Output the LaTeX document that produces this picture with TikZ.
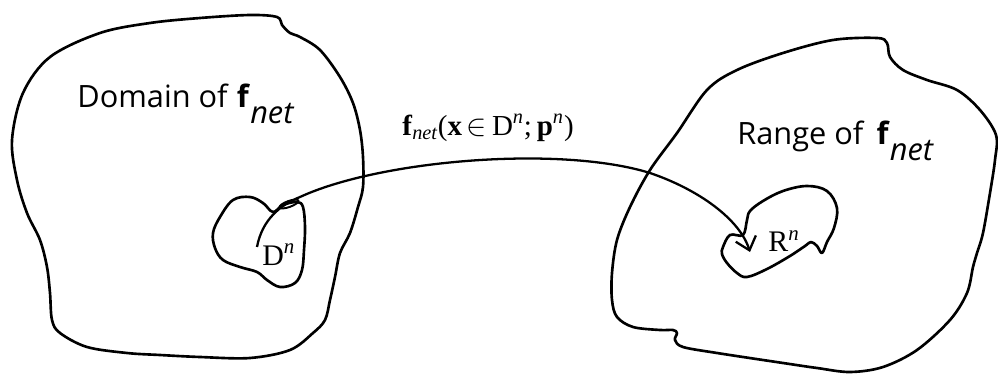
\documentclass[tikz,border=0pt]{standalone}
\usepackage{fontspec}
\setmainfont{Liberation Serif}
\newfontfamily\labelsf{Open Sans}
\usetikzlibrary{arrows.meta}
\tikzset{blob/.style={line width=1.5pt, line join=round},
         lbl/.style={anchor=base west, inner sep=0pt}}
\begin{document}
\begin{tikzpicture}[x=0.02cm,y=-0.02cm]
\useasboundingbox (0,0) rectangle (998,375);
% domain of the network function
\draw[blob] plot[smooth cycle,tension=0.55] coordinates {(12,140) (23,93) (50,57) (100,33) (150,23) (200,18) (250,15) (277,17) (282,25) (290,33) (300,37) (320,50) (340,77) (353,103) (360,130) (363,157) (363,187) (358,207) (350,233) (340,253) (335,277) (330,300) (325,320) (313,333) (290,350) (250,358) (200,357) (160,355) (127,353) (87,347) (60,333) (52,320) (50,293) (47,267) (40,240) (27,213) (17,180)};
% range
\draw[blob] plot[smooth cycle,tension=0.55] coordinates {(707,90) (737,70) (783,53) (833,40) (877,38) (887,43) (890,57) (903,70) (927,80) (957,90) (980,110) (996,135) (995,160) (990,193) (983,233) (977,253) (973,267) (967,293) (950,320) (917,350) (883,367) (850,372) (817,368) (783,363) (717,353) (683,347) (675,340) (677,333) (673,330) (660,330) (633,327) (617,317) (612,300) (612,273) (617,240) (630,207) (650,170) (677,133)};
% small sets
\draw[blob] plot[smooth cycle,tension=0.6] coordinates {(213,233) (220,217) (233,200) (250,197) (263,203) (273,212) (283,205) (297,202) (303,207) (305,227) (304,250) (302,270) (295,283) (280,287) (267,280) (257,272) (240,267) (223,260) (215,248)};
\draw[blob] plot[smooth cycle,tension=0.6] coordinates {(723,247) (730,235) (743,235) (747,220) (750,211) (763,201) (783,191) (807,186) (827,191) (837,208) (834,228) (827,242) (822,253) (817,246) (811,242) (805,246) (790,256) (767,269) (747,277) (737,273) (727,263) (722,254)};
\node[lbl] (domlabel) at (77,108) {\labelsf\fontsize{17.5}{20}\selectfont Domain of \textbf{f}\raisebox{-0.5em}{\itshape net}};
\node[lbl] (rnglabel) at (737,145) {\labelsf\fontsize{17.5}{20}\selectfont Range of\, \textbf{f}\raisebox{-0.5em}{\itshape net}};
\node[lbl] (maplabel) at (402,135) {\fontsize{16.5}{19}\selectfont\textbf{f}\textsubscript{\itshape net}(\textbf{x}\,$\in$\,D\textsuperscript{\itshape n};\,\textbf{p}\textsuperscript{\itshape n})};
\node[lbl] (dn) at (262,265) {\fontsize{17}{20}\selectfont D\textsuperscript{\itshape n}};
\node[lbl] (rn) at (768,252) {\fontsize{17}{20}\selectfont R\textsuperscript{\itshape n}};
\coordinate (dtail) at (257,247);
\coordinate (rtip) at (750,252);
\draw[line width=1.3pt,-{Straight Barb[length=7pt,width=12pt]}] (dtail) .. controls (262,220) and (280,205) .. (300,197) .. controls (380,160) and (560,145) .. (650,173) .. controls (700,190) and (740,220) .. (rtip);
\draw[line width=1.1pt] (289,204) ellipse [x radius=10, y radius=3, rotate=20];
\end{tikzpicture}
\end{document}
